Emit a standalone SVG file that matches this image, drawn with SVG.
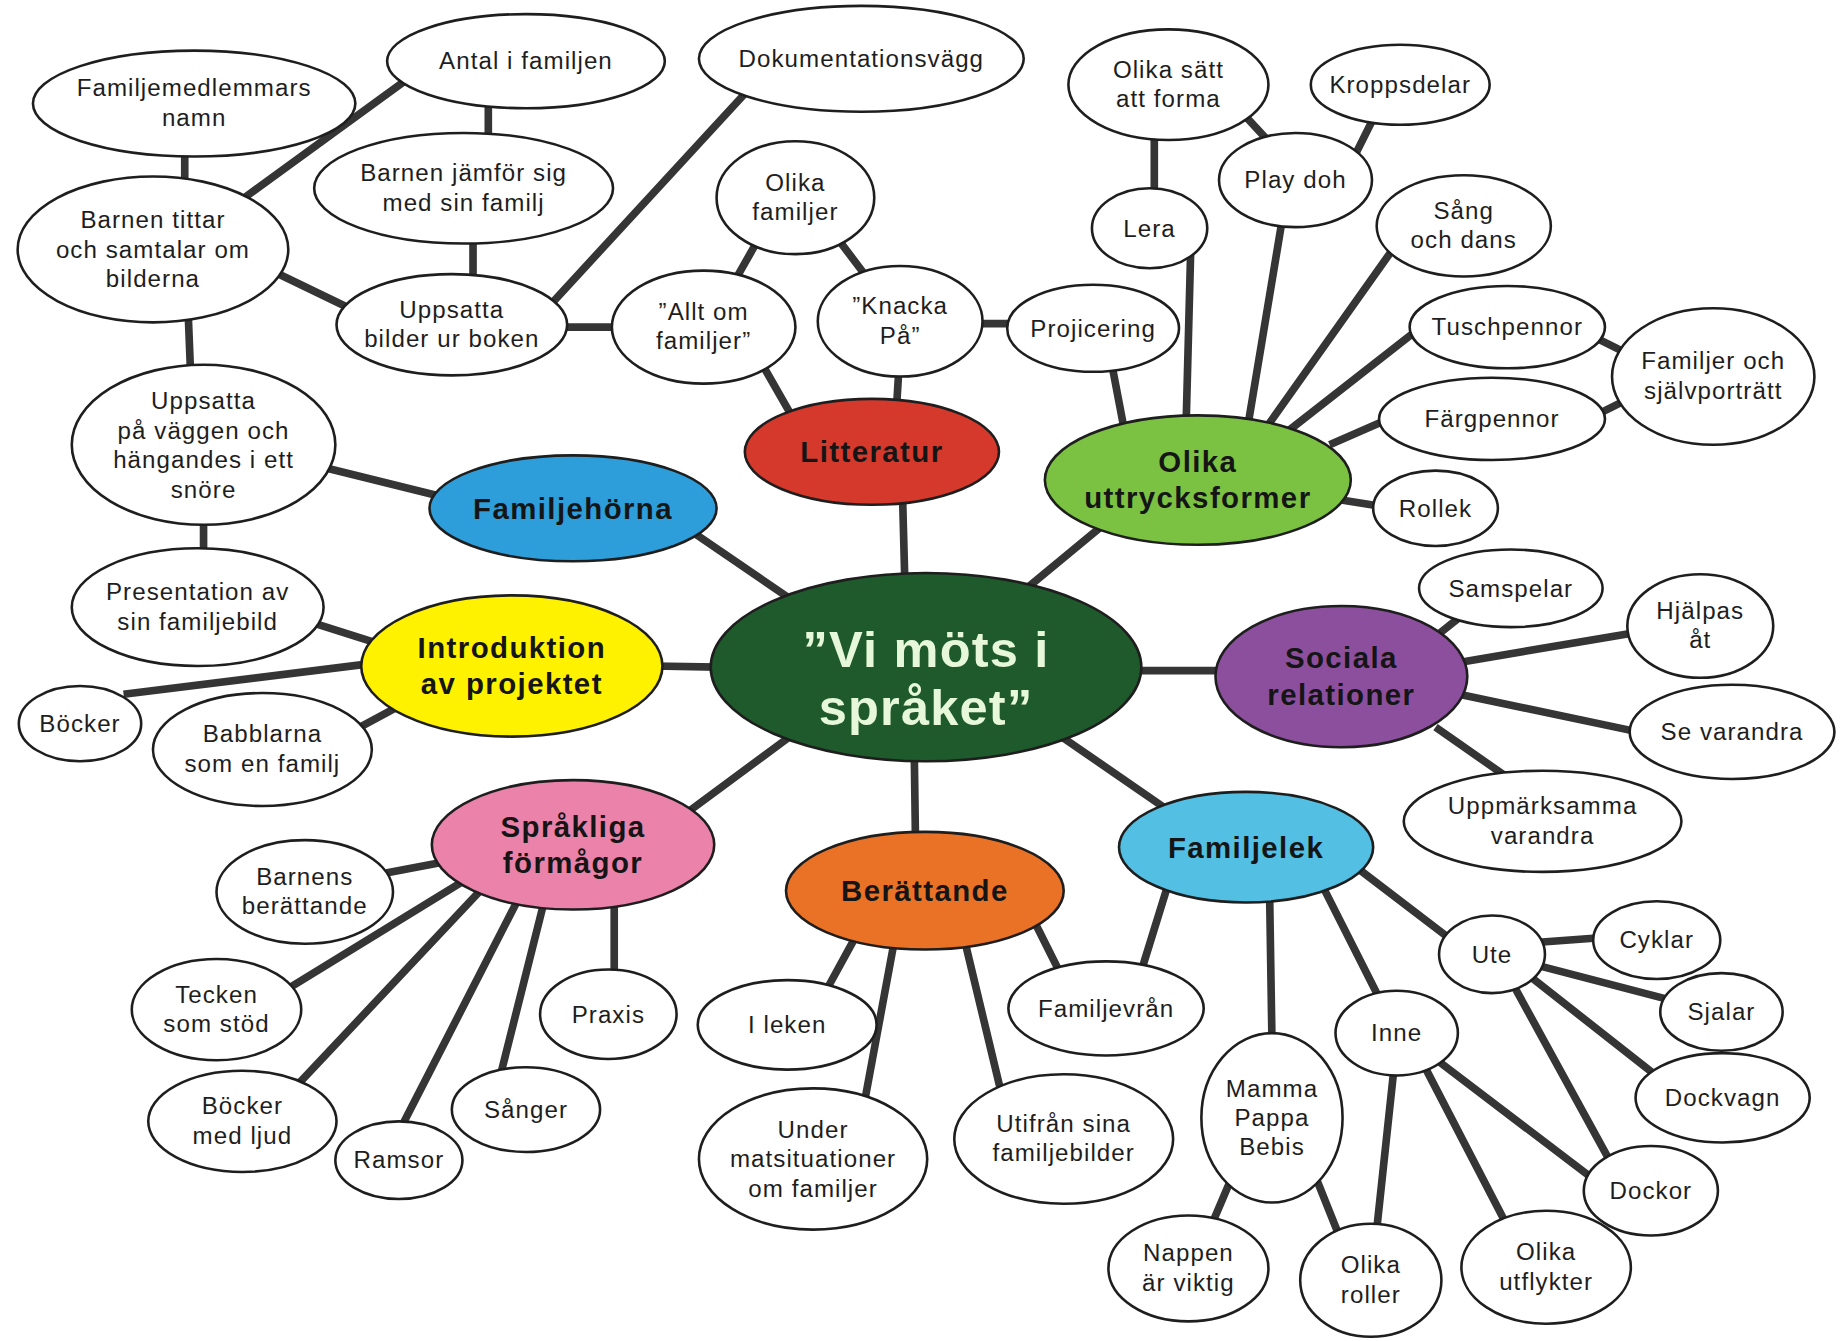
<svg xmlns="http://www.w3.org/2000/svg" width="1845" height="1341" viewBox="0 0 1845 1341">
<style>
.c{stroke:#353535;stroke-width:6.5;fill:none}
.w{fill:#fff;stroke:#1e1e1e;stroke-width:2.2}
.k{stroke:#1e1e1e;stroke-width:2.2}
.t{font-family:"Liberation Sans",Arial,sans-serif;font-size:20.5px;letter-spacing:0.9px;fill:#1e1e1e;text-anchor:middle}
.b{font-family:"Liberation Sans",Arial,sans-serif;font-size:25px;letter-spacing:1.2px;font-weight:bold;fill:#151515;text-anchor:middle}
.m{font-family:"Liberation Sans",Arial,sans-serif;font-size:43px;letter-spacing:1px;font-weight:bold;fill:#e6f7da;text-anchor:middle}
</style>
<rect width="1845" height="1341" fill="#fff"/>
<g transform="scale(1.17666)">
<g id="connectors">
<path class="c" d="M157,125L157,158M205,170L348,66M415,85L415,118M402,200L402,238M235,232L297,262M465,262L640,72M475,278L525,278M626,236L643,206M712,203L737,236M830,275L862,275M648,310L672,352M764,312L762,345M767,420L769,495M944,305L956,368M981,110L981,168M1055,95L1080,122M1150,135L1170,95M1012,210L1008,362M1090,185L1060,365M1185,210L1075,365M1205,280L1090,370M1358,288L1378,298M1358,352L1378,342M1180,356L1130,378M1172,430L1140,425M945,440L870,502M160,268L162,318M278,398L375,422M173,440L173,472M584,449L676,512M268,530L325,548M105,590L315,564M302,620L345,597M555,566L610,567M962,570L1040,570M1240,525L1215,545M1240,563L1388,538M1240,590L1392,622M1220,618L1283,662M902,626L992,688M777,640L778,712M674,624L578,695M992,754L970,825M1079,760L1081,885M1125,755L1172,848M1150,735L1235,800M1305,801L1360,797M1305,820L1420,850M1298,828L1415,920M1285,835L1370,990M1220,900L1358,1005M1210,905L1280,1040M1185,905L1170,1045M1048,998L1028,1045M1118,1000L1138,1050M725,800L702,842M760,800L735,935M820,800L850,925M880,785L900,825M375,733L328,742M395,748L245,840M410,755L250,925M440,765L340,960M462,768L425,915M522,765L522,832"/>
</g>
<g id="n-center"><ellipse class="k" cx="787" cy="567" rx="183" ry="80" fill="#1f5a2c"/><text class="m" x="787" y="567">”Vi möts i</text><text class="m" x="787" y="616">språket”</text></g>
<g id="n-litteratur"><ellipse class="k" cx="741" cy="384" rx="108" ry="45" fill="#d5392c"/><text class="b" x="741" y="393">Litteratur</text></g>
<g id="n-uttryck"><ellipse class="k" cx="1018" cy="408" rx="130" ry="55" fill="#7cc242"/><text class="b" x="1018" y="401">Olika</text><text class="b" x="1018" y="432">uttrycksformer</text></g>
<g id="n-familjehorna"><ellipse class="k" cx="487" cy="432" rx="122" ry="45" fill="#2e9edb"/><text class="b" x="487" y="441">Familjehörna</text></g>
<g id="n-intro"><ellipse class="k" cx="435" cy="566" rx="128" ry="60" fill="#fff200"/><text class="b" x="435" y="559">Introduktion</text><text class="b" x="435" y="590">av projektet</text></g>
<g id="n-sociala"><ellipse class="k" cx="1140" cy="575" rx="107" ry="60" fill="#8c4f9d"/><text class="b" x="1140" y="568">Sociala</text><text class="b" x="1140" y="599">relationer</text></g>
<g id="n-familjelek"><ellipse class="k" cx="1059" cy="720" rx="108" ry="47" fill="#52bfe3"/><text class="b" x="1059" y="729">Familjelek</text></g>
<g id="n-berattande"><ellipse class="k" cx="786" cy="757" rx="118" ry="50" fill="#ea7226"/><text class="b" x="786" y="766">Berättande</text></g>
<g id="n-sprakliga"><ellipse class="k" cx="487" cy="718" rx="120" ry="55" fill="#ea82aa"/><text class="b" x="487" y="711">Språkliga</text><text class="b" x="487" y="742">förmågor</text></g>

<g id="n-familjemedlemmars"><ellipse class="w" cx="165" cy="88" rx="137" ry="45"/><text class="t" x="165" y="82">Familjemedlemmars</text><text class="t" x="165" y="107">namn</text></g>
<g id="n-antal"><ellipse class="w" cx="447" cy="52" rx="118" ry="40"/><text class="t" x="447" y="59">Antal i familjen</text></g>
<g id="n-dokumentation"><ellipse class="w" cx="732" cy="50" rx="138" ry="45"/><text class="t" x="732" y="57">Dokumentationsvägg</text></g>
<g id="n-jamfor"><ellipse class="w" cx="394" cy="160" rx="127" ry="47"/><text class="t" x="394" y="154">Barnen jämför sig</text><text class="t" x="394" y="179">med sin familj</text></g>
<g id="n-tittar"><ellipse class="w" cx="130" cy="212" rx="115" ry="62"/><text class="t" x="130" y="194">Barnen tittar</text><text class="t" x="130" y="219">och samtalar om</text><text class="t" x="130" y="244">bilderna</text></g>
<g id="n-uppsatta-bilder"><ellipse class="w" cx="384" cy="276" rx="98" ry="43"/><text class="t" x="384" y="270">Uppsatta</text><text class="t" x="384" y="295">bilder ur boken</text></g>
<g id="n-olika-familjer"><ellipse class="w" cx="676" cy="168" rx="67" ry="48"/><text class="t" x="676" y="162">Olika</text><text class="t" x="676" y="187">familjer</text></g>
<g id="n-allt-om"><ellipse class="w" cx="598" cy="278" rx="78" ry="48"/><text class="t" x="598" y="272">”Allt om</text><text class="t" x="598" y="297">familjer”</text></g>
<g id="n-knacka"><ellipse class="w" cx="765" cy="273" rx="70" ry="47"/><text class="t" x="765" y="267">”Knacka</text><text class="t" x="765" y="292">På”</text></g>
<g id="n-projicering"><ellipse class="w" cx="929" cy="279" rx="73" ry="37"/><text class="t" x="929" y="286">Projicering</text></g>
<g id="n-olika-satt"><ellipse class="w" cx="993" cy="72" rx="85" ry="47"/><text class="t" x="993" y="66">Olika sätt</text><text class="t" x="993" y="91">att forma</text></g>
<g id="n-kroppsdelar"><ellipse class="w" cx="1190" cy="72" rx="76" ry="34"/><text class="t" x="1190" y="79">Kroppsdelar</text></g>
<g id="n-playdoh"><ellipse class="w" cx="1101" cy="153" rx="65" ry="40"/><text class="t" x="1101" y="160">Play doh</text></g>
<g id="n-lera"><ellipse class="w" cx="977" cy="194" rx="49" ry="34"/><text class="t" x="977" y="201">Lera</text></g>
<g id="n-sang-dans"><ellipse class="w" cx="1244" cy="192" rx="74" ry="43"/><text class="t" x="1244" y="186">Sång</text><text class="t" x="1244" y="211">och dans</text></g>
<g id="n-tusch"><ellipse class="w" cx="1281" cy="278" rx="83" ry="35"/><text class="t" x="1281" y="285">Tuschpennor</text></g>
<g id="n-sjalvportratt"><ellipse class="w" cx="1456" cy="320" rx="86" ry="58"/><text class="t" x="1456" y="314">Familjer och</text><text class="t" x="1456" y="339">självporträtt</text></g>
<g id="n-fargpennor"><ellipse class="w" cx="1268" cy="356" rx="96" ry="35"/><text class="t" x="1268" y="363">Färgpennor</text></g>
<g id="n-rollek"><ellipse class="w" cx="1220" cy="432" rx="53" ry="32"/><text class="t" x="1220" y="439">Rollek</text></g>
<g id="n-vaggen"><ellipse class="w" cx="173" cy="378" rx="112" ry="68"/><text class="t" x="173" y="348">Uppsatta</text><text class="t" x="173" y="373">på väggen och</text><text class="t" x="173" y="398">hängandes i ett</text><text class="t" x="173" y="423">snöre</text></g>
<g id="n-presentation"><ellipse class="w" cx="168" cy="516" rx="107" ry="50"/><text class="t" x="168" y="510">Presentation av</text><text class="t" x="168" y="535">sin familjebild</text></g>
<g id="n-bocker"><ellipse class="w" cx="68" cy="615" rx="52" ry="32"/><text class="t" x="68" y="622">Böcker</text></g>
<g id="n-babblarna"><ellipse class="w" cx="223" cy="637" rx="93" ry="48"/><text class="t" x="223" y="631">Babblarna</text><text class="t" x="223" y="656">som en familj</text></g>
<g id="n-samspelar"><ellipse class="w" cx="1284" cy="500" rx="78" ry="33"/><text class="t" x="1284" y="507">Samspelar</text></g>
<g id="n-hjalpas"><ellipse class="w" cx="1445" cy="532" rx="62" ry="44"/><text class="t" x="1445" y="526">Hjälpas</text><text class="t" x="1445" y="551">åt</text></g>
<g id="n-se-varandra"><ellipse class="w" cx="1472" cy="622" rx="87" ry="40"/><text class="t" x="1472" y="629">Se varandra</text></g>
<g id="n-uppmarksamma"><ellipse class="w" cx="1311" cy="698" rx="118" ry="43"/><text class="t" x="1311" y="692">Uppmärksamma</text><text class="t" x="1311" y="717">varandra</text></g>
<g id="n-barnens"><ellipse class="w" cx="259" cy="758" rx="75" ry="44"/><text class="t" x="259" y="752">Barnens</text><text class="t" x="259" y="777">berättande</text></g>
<g id="n-tecken"><ellipse class="w" cx="184" cy="858" rx="72" ry="43"/><text class="t" x="184" y="852">Tecken</text><text class="t" x="184" y="877">som stöd</text></g>
<g id="n-praxis"><ellipse class="w" cx="517" cy="862" rx="58" ry="38"/><text class="t" x="517" y="869">Praxis</text></g>
<g id="n-bocker-ljud"><ellipse class="w" cx="206" cy="953" rx="80" ry="43"/><text class="t" x="206" y="947">Böcker</text><text class="t" x="206" y="972">med ljud</text></g>
<g id="n-ramsor"><ellipse class="w" cx="339" cy="986" rx="54" ry="33"/><text class="t" x="339" y="993">Ramsor</text></g>
<g id="n-sanger"><ellipse class="w" cx="447" cy="943" rx="63" ry="36"/><text class="t" x="447" y="950">Sånger</text></g>
<g id="n-i-leken"><ellipse class="w" cx="669" cy="871" rx="76" ry="38"/><text class="t" x="669" y="878">I leken</text></g>
<g id="n-under-mat"><ellipse class="w" cx="691" cy="985" rx="97" ry="60"/><text class="t" x="691" y="967">Under</text><text class="t" x="691" y="992">matsituationer</text><text class="t" x="691" y="1017">om familjer</text></g>
<g id="n-utifran"><ellipse class="w" cx="904" cy="968" rx="93" ry="55"/><text class="t" x="904" y="962">Utifrån sina</text><text class="t" x="904" y="987">familjebilder</text></g>
<g id="n-familjevran"><ellipse class="w" cx="940" cy="857" rx="83" ry="40"/><text class="t" x="940" y="864">Familjevrån</text></g>
<g id="n-mamma"><ellipse class="w" cx="1081" cy="950" rx="60" ry="72"/><text class="t" x="1081" y="932">Mamma</text><text class="t" x="1081" y="957">Pappa</text><text class="t" x="1081" y="982">Bebis</text></g>
<g id="n-inne"><ellipse class="w" cx="1187" cy="878" rx="52" ry="36"/><text class="t" x="1187" y="885">Inne</text></g>
<g id="n-ute"><ellipse class="w" cx="1268" cy="811" rx="45" ry="33"/><text class="t" x="1268" y="818">Ute</text></g>
<g id="n-cyklar"><ellipse class="w" cx="1408" cy="799" rx="54" ry="33"/><text class="t" x="1408" y="806">Cyklar</text></g>
<g id="n-sjalar"><ellipse class="w" cx="1463" cy="860" rx="52" ry="33"/><text class="t" x="1463" y="867">Sjalar</text></g>
<g id="n-dockvagn"><ellipse class="w" cx="1464" cy="933" rx="74" ry="38"/><text class="t" x="1464" y="940">Dockvagn</text></g>
<g id="n-dockor"><ellipse class="w" cx="1403" cy="1012" rx="57" ry="38"/><text class="t" x="1403" y="1019">Dockor</text></g>
<g id="n-nappen"><ellipse class="w" cx="1010" cy="1078" rx="68" ry="45"/><text class="t" x="1010" y="1072">Nappen</text><text class="t" x="1010" y="1097">är viktig</text></g>
<g id="n-olika-roller"><ellipse class="w" cx="1165" cy="1088" rx="60" ry="48"/><text class="t" x="1165" y="1082">Olika</text><text class="t" x="1165" y="1107">roller</text></g>
<g id="n-utflykter"><ellipse class="w" cx="1314" cy="1077" rx="72" ry="48"/><text class="t" x="1314" y="1071">Olika</text><text class="t" x="1314" y="1096">utflykter</text></g>
</g>
</svg>
